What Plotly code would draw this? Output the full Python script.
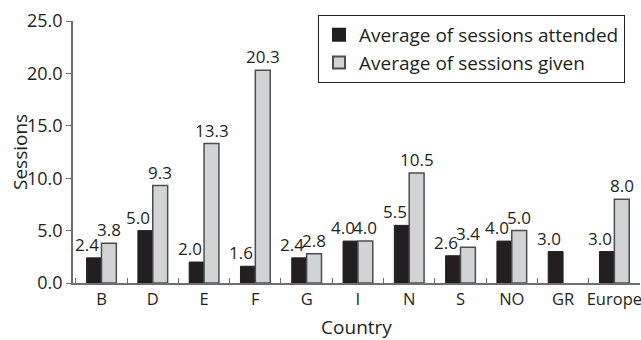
import plotly.graph_objects as go

countries = ["B", "D", "E", "F", "G", "I", "N", "S", "NO", "GR", "Europe"]
attended = [2.4, 5.0, 2.0, 1.6, 2.4, 4.0, 5.5, 2.6, 4.0, 3.0, 3.0]
given = [3.8, 9.3, 13.3, 20.3, 2.8, 4.0, 10.5, 3.4, 5.0, None, 8.0]
y_ticks = [0, 5, 10, 15, 20, 25]

font_family = "'Open Sans', 'Noto Sans', sans-serif"
W, H = 641, 340
ML, MR, MT, MB = 73, 1, 21, 57
BARGAP = 0.42
PW = W - ML - MR

fig = go.Figure()
fig.add_trace(go.Bar(
    x=countries, y=attended, name="Average of sessions attended",
    legendgroup="a",
    marker=dict(color="#231f20", line=dict(color="#231f20", width=1)),
))
fig.add_trace(go.Bar(
    x=countries, y=given, name="Average of sessions given",
    legendgroup="g",
    marker=dict(color="#d1d3d4", line=dict(color="#4d4d4f", width=1.5)),
))

# value labels (black label nudged left, as in the reference)
cat_px = PW / len(countries)
bar_px = cat_px * (1 - BARGAP) / 2
anns = []
for c, v in zip(countries, attended):
    anns.append(dict(x=c, y=v, xref="x", yref="y", text=f"{v:.1f}", showarrow=False,
                     xanchor="center", yanchor="bottom", xshift=-bar_px / 2 - 7, yshift=0,
                     font=dict(size=17, color="#231f20")))
for c, v in zip(countries, given):
    if v is None:
        continue
    anns.append(dict(x=c, y=v, xref="x", yref="y", text=f"{v:.1f}", showarrow=False,
                     xanchor="center", yanchor="bottom", xshift=bar_px / 2, yshift=0,
                     font=dict(size=17, color="#231f20")))
# y-axis title
anns.append(dict(x=-(ML - 20) / PW, y=0.5, xref="paper", yref="paper", text="Sessions",
                 textangle=-90, showarrow=False, xanchor="center", yanchor="middle",
                 font=dict(size=19, color="#231f20")))

fig.update_layout(
    width=W, height=H,
    margin=dict(l=ML, r=MR, t=MT, b=MB, autoexpand=False),
    paper_bgcolor="white", plot_bgcolor="white",
    barmode="group", bargap=BARGAP, bargroupgap=0,
    font=dict(family=font_family, size=18, color="#231f20"),
    showlegend=True,
    annotations=anns,
    legend=dict(
        x=(318 - ML) / PW, y=1 + (MT - 15) / (H - MT - MB),
        xanchor="left", yanchor="top",
        bordercolor="#231f20", borderwidth=1, bgcolor="white",
        font=dict(size=19), itemsizing="constant",
        tracegroupgap=9, traceorder="normal",
    ),
    xaxis=dict(
        title=dict(text="Country", font=dict(size=19), standoff=12),
        showline=True, linecolor="#6d6e71", linewidth=1.5,
        ticks="inside", tickson="boundaries", ticklen=5, tickcolor="#6d6e71",
        tickfont=dict(size=16.5), tickangle=0, automargin=False,
        showgrid=False,
    ),
    yaxis=dict(
        range=[0, 25], tickvals=y_ticks,
        ticktext=[f"{v:.1f}" for v in y_ticks],
        showline=True, linecolor="#6d6e71", linewidth=1.5,
        ticks="outside", ticklen=5, tickcolor="#6d6e71",
        tickfont=dict(size=18), automargin=False,
        showgrid=False, zeroline=False,
    ),
)

fig.write_html("out.html", config={"displayModeBar": False},
               post_script="document.body.style.margin='0';")
